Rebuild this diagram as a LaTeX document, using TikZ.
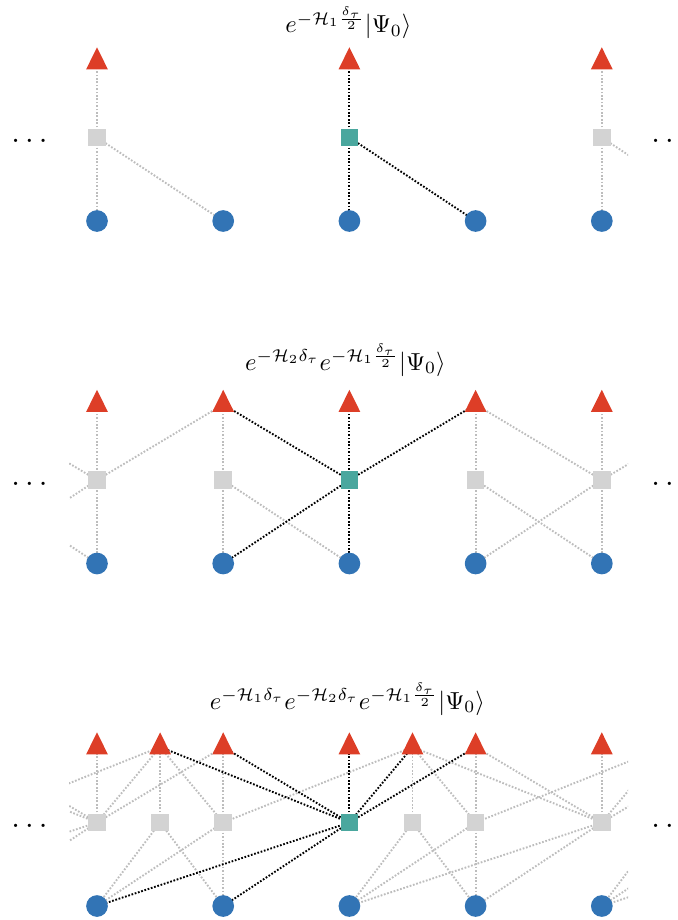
\documentclass[tikz,border=0pt]{standalone}
\usepackage{graphicx}
\usetikzlibrary{backgrounds}
\definecolor{tred}{HTML}{DD3E27}
\definecolor{cblue}{HTML}{3274B5}
\definecolor{tealsq}{HTML}{4AA79E}
\definecolor{sgray}{HTML}{D3D3D3}
\definecolor{lgray}{HTML}{BDBDBD}
\newcommand\mytri[3]{\node[tpt] (#1) at (#2,#3) {};
  \fill[tred] (#1.center) ++(-10.85,7.3) -- ++(21.7,0) -- ++(-10.85,-22) -- cycle;}
\begin{document}
\begin{tikzpicture}[x=0.5pt,y=-0.5pt,
  sq/.style={rectangle,fill=sgray,minimum size=8.85pt,inner sep=0pt},
  sqt/.style={rectangle,fill=tealsq,minimum size=8.85pt,inner sep=0pt},
  cir/.style={circle,fill=cblue,minimum size=10.85pt,inner sep=0pt},
  tpt/.style={inner sep=0pt,minimum size=0pt},
  ge/.style={draw=lgray,line width=0.95pt,dash pattern=on 0.85pt off 0.85pt},
  be/.style={draw=black,line width=0.95pt,dash pattern=on 0.85pt off 0.85pt},
  ttl/.style={anchor=base,inner sep=0pt},
  dtl/.style={anchor=base west,inner sep=0pt}
]
\useasboundingbox (0,0) rectangle (678,920);

% ---------- titles ----------
\node[ttl] (title0) at (348.5,33) {\scalebox{1.23}{$e^{-\mathcal{H}_1\frac{\delta_\tau}{2}}|\Psi_0\rangle$}};
\node[ttl] (title1) at (345.5,370) {\scalebox{1.23}{$e^{-\mathcal{H}_2\delta_\tau}e^{-\mathcal{H}_1\frac{\delta_\tau}{2}}|\Psi_0\rangle$}};
\node[ttl] (title2) at (347.5,709) {\scalebox{1.23}{$e^{-\mathcal{H}_1\delta_\tau}e^{-\mathcal{H}_2\delta_\tau}e^{-\mathcal{H}_1\frac{\delta_\tau}{2}}|\Psi_0\rangle$}};

% ---------- dots ----------
\node[dtl] (dl0) at (11,142) {\scalebox{1.55}{$\ldots$}};
\node[dtl] (dr0) at (651,142) {\scalebox{1.55}{$\ldots$}};
\node[dtl] (dl1) at (11,485) {\scalebox{1.55}{$\ldots$}};
\node[dtl] (dr1) at (651,485) {\scalebox{1.55}{$\ldots$}};
\node[dtl] (dl2) at (11,827) {\scalebox{1.55}{$\ldots$}};
\node[dtl] (dr2) at (651,827) {\scalebox{1.55}{$\ldots$}};

% ---------- panel 0 ----------
\mytri{t0j0}{97}{62}
\mytri{t0j4}{349.4}{62}
\mytri{t0j8}{601.8}{62}
\node[sq]  (s0j0) at (97,137.5) {};
\node[sqt] (s0j4) at (349.4,137.5) {};
\node[sq]  (s0j8) at (601.8,137.5) {};
\node[cir] (c0j0) at (97,221) {};
\node[cir] (c0j2) at (223.2,221) {};
\node[cir] (c0j4) at (349.4,221) {};
\node[cir] (c0j6) at (475.6,221) {};
\node[cir] (c0j8) at (601.8,221) {};
\coordinate (c0j10) at (728,221);

% ---------- panel 1 ----------
\mytri{t1j0}{97}{404.5}
\mytri{t1j2}{223.2}{404.5}
\mytri{t1j4}{349.4}{404.5}
\mytri{t1j6}{475.6}{404.5}
\mytri{t1j8}{601.8}{404.5}
\node[sq]  (s1j0) at (97,480) {};
\node[sq]  (s1j2) at (223.2,480) {};
\node[sqt] (s1j4) at (349.4,480) {};
\node[sq]  (s1j6) at (475.6,480) {};
\node[sq]  (s1j8) at (601.8,480) {};
\node[cir] (c1j0) at (97,563.5) {};
\node[cir] (c1j2) at (223.2,563.5) {};
\node[cir] (c1j4) at (349.4,563.5) {};
\node[cir] (c1j6) at (475.6,563.5) {};
\node[cir] (c1j8) at (601.8,563.5) {};
\coordinate (t1m2) at (-29.2,404.5);
\coordinate (s1m2) at (-29.2,480);
\coordinate (c1m2) at (-29.2,563.5);
\coordinate (t1j10) at (728,404.5);

% ---------- panel 2 ----------
\mytri{t2j0}{97}{747}
\mytri{t2j1}{160.1}{747}
\mytri{t2j2}{223.2}{747}
\mytri{t2j4}{349.4}{747}
\mytri{t2j5}{412.5}{747}
\mytri{t2j6}{475.6}{747}
\mytri{t2j8}{601.8}{747}
\node[sq]  (s2j0) at (97,822.5) {};
\node[sq]  (s2j1) at (160.1,822.5) {};
\node[sq]  (s2j2) at (223.2,822.5) {};
\node[sqt] (s2j4) at (349.4,822.5) {};
\node[sq]  (s2j5) at (412.5,822.5) {};
\node[sq]  (s2j6) at (475.6,822.5) {};
\node[sq]  (s2j8) at (601.8,822.5) {};
\node[cir] (c2j0) at (97,906) {};
\node[cir] (c2j2) at (223.2,906) {};
\node[cir] (c2j4) at (349.4,906) {};
\node[cir] (c2j6) at (475.6,906) {};
\node[cir] (c2j8) at (601.8,906) {};
\coordinate (t2m3) at (-92.3,747);
\coordinate (t2m2) at (-29.2,747);
\coordinate (s2m2) at (-29.2,822.5);
\coordinate (c2m4) at (-155.4,906);
\coordinate (c2m2) at (-29.2,906);
\coordinate (t2j9) at (664.9,747);
\coordinate (t2j10) at (728,747);
\coordinate (s2j9) at (664.9,822.5);
\coordinate (s2j10) at (728,822.5);
\coordinate (s2j12) at (854.2,822.5);

% ---------- connectors ----------
\begin{scope}[on background layer]
\clip (69,0) rectangle (628,920);
% panel 0
\foreach \a/\b in {s0j0/t0j0, s0j0/c0j0, s0j0/c0j2, s0j8/t0j8, s0j8/c0j8, s0j8/c0j10}
  \draw[ge] (\a.center) -- (\b.center);
\foreach \a/\b in {s0j4/t0j4, s0j4/c0j4, s0j4/c0j6}
  \draw[be] (\a.center) -- (\b.center);
% panel 1
\foreach \a/\b in {s1j0/t1m2, s1j0/t1j0, s1j0/t1j2, s1j0/c1m2, s1j0/c1j0,
  s1m2/c1j0,
  s1j2/t1j2, s1j2/c1j2, s1j2/c1j4,
  s1j6/t1j6, s1j6/c1j6, s1j6/c1j8,
  s1j8/t1j6, s1j8/t1j8, s1j8/t1j10, s1j8/c1j6, s1j8/c1j8}
  \draw[ge] (\a.center) -- (\b.center);
\foreach \a/\b in {s1j4/t1j2, s1j4/t1j4, s1j4/t1j6, s1j4/c1j2, s1j4/c1j4}
  \draw[be] (\a.center) -- (\b.center);
% panel 2
\foreach \a/\b in {s2j0/t2m3, s2j0/t2m2, s2j0/t2j0, s2j0/t2j1, s2j0/t2j2, s2j0/c2m4, s2j0/c2m2,
  s2m2/t2j1,
  s2j1/t2j1, s2j1/c2j0, s2j1/c2j2,
  s2j2/t2j2, s2j2/t2j1, s2j2/t2j5, s2j2/c2j0, s2j2/c2j2,
  s2j5/t2j5, s2j5/c2j4, s2j5/c2j6,
  s2j6/t2j6, s2j6/t2j5, s2j6/t2j9, s2j6/c2j4, s2j6/c2j6,
  s2j8/t2j5, s2j8/t2j6, s2j8/t2j8, s2j8/t2j9, s2j8/t2j10, s2j8/c2j4, s2j8/c2j6,
  s2j9/c2j8, s2j10/c2j8, s2j12/c2j8}
  \draw[ge] (\a.center) -- (\b.center);
\foreach \a/\b in {s2j4/t2j1, s2j4/t2j2, s2j4/t2j4, s2j4/t2j5, s2j4/t2j6, s2j4/c2j0, s2j4/c2j2}
  \draw[be] (\a.center) -- (\b.center);
\end{scope}
\end{tikzpicture}
\end{document}
